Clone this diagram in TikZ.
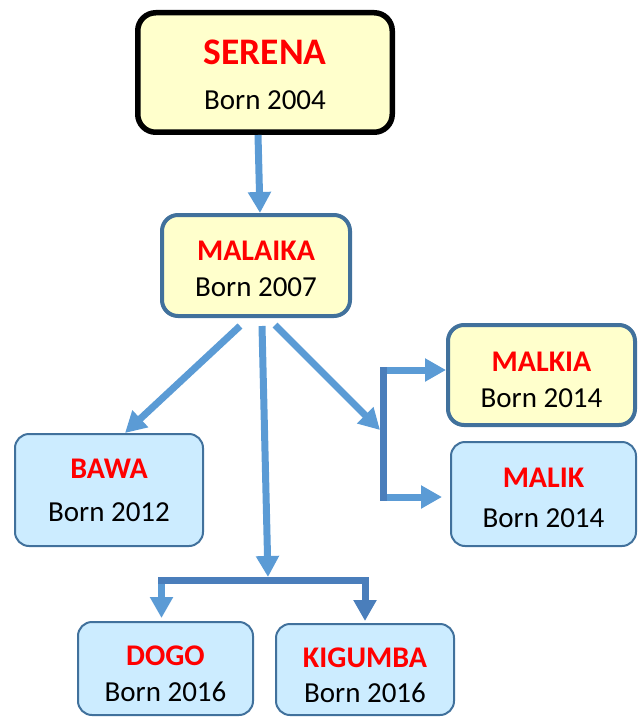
\documentclass[tikz,border=0pt]{standalone}
\usepackage{fontspec}
\setmainfont{Carlito}
\usetikzlibrary{positioning, arrows.meta}
\definecolor{petyellow}{HTML}{FFFFCC}
\definecolor{petblue}{HTML}{CCECFF}
\definecolor{petframe}{HTML}{41719C}
\definecolor{linkblue}{HTML}{5B9BD5}
\definecolor{forkblue}{HTML}{4A7EBB}
% name, year, gap between lines, height of first line
\newcommand{\pet}[4]{\rule{0pt}{#4}{\fontsize{30}{35}\selectfont\bfseries\color{red}#1}\\[#3]Born #2}

\begin{document}
\begin{tikzpicture}[
    on grid,
    every node/.style={inner sep=0pt, align=center, font=\fontsize{29}{35}\selectfont},
    elder/.style={rectangle, rounded corners=16pt, fill=petyellow, draw=petframe, line width=4pt},
    young/.style={rectangle, rounded corners=14pt, fill=petblue, draw=petframe, line width=2pt},
    every edge/.append style={line width=7pt, draw=linkblue, -{Triangle[width=22pt,length=21pt]}},
    fork/.style={line width=7pt, draw=forkblue, line cap=rect}
]
   \useasboundingbox (0,0) rectangle (637pt,-722pt);

   % Cats
   \node[elder, draw=black, line width=5.5pt, rounded corners=18pt, minimum width=254.5pt, minimum height=119.5pt] (serena) at (265pt,-72.5pt) {\pet{\fontsize{37.5}{35}\selectfont SERENA}{2004}{10pt}{29.5pt}};
   \node[elder, minimum width=188pt, minimum height=101pt] (malaika) [below left=193pt and 9pt of serena] {\pet{MALAIKA}{2007}{1pt}{27pt}};
   \node[young, minimum width=188pt, minimum height=112pt] (bawa) [below left=224.5pt and 147pt of malaika] {\pet{BAWA}{2012}{8pt}{18pt}};
   \node[elder, minimum width=187pt, minimum height=100pt] (malkia) [below right=109.5pt and 285.5pt of malaika] {\pet{MALKIA}{2014}{1pt}{29pt}};
   \node[young, minimum width=185pt, minimum height=104pt] (malik) [below right=119pt and 2pt of malkia] {\pet{MALIK}{2014}{5pt}{27pt}};
   \node[young, minimum width=175pt, minimum height=93pt] (dogo) [below right=178.5pt and 56.5pt of bawa] {\pet{DOGO}{2016}{1pt}{31pt}};
   \node[young, minimum width=178pt, minimum height=91pt] (kigumba) [below right=1pt and 199.5pt of dogo] {\pet{KIGUMBA}{2016}{0pt}{31pt}};

   % Forks
   \coordinate[below right=314.5pt and 12pt of malaika] (lowfork);
   \coordinate[below right=164.5pt and 124pt of malaika] (rfork);
   \coordinate (rtop) at ([xshift=3pt,yshift=5pt]rfork |- malkia.west);
   \coordinate (rbot) at ([xshift=3pt,yshift=-3pt]rfork |- malik.west);

   % Links
   \path
   ([xshift=-7pt]serena.south) edge ([xshift=4pt]malaika.north)
   ([xshift=-16pt,yshift=-8pt]malaika.south) edge ([xshift=16pt]bawa.north)
   ([xshift=6pt,yshift=-8pt]malaika.south) edge ([yshift=3pt]lowfork)
   ([xshift=19pt,yshift=-7pt]malaika.south) edge (rfork)

   ([xshift=-4pt]dogo.north |- lowfork) edge ([xshift=-4pt,yshift=3pt]dogo.north)
   (kigumba.north |- lowfork) edge[draw=forkblue] ([yshift=2pt]kigumba.north)

   (rtop) edge (malkia.west |- rtop)
   (rbot) edge ([xshift=-8pt]malik.west |- rbot);

   \draw[fork] ([xshift=-4pt]dogo.north |- lowfork) -- (kigumba.north |- lowfork);
   \draw[fork] (rtop) -- (rbot);
\end{tikzpicture}
\end{document}
